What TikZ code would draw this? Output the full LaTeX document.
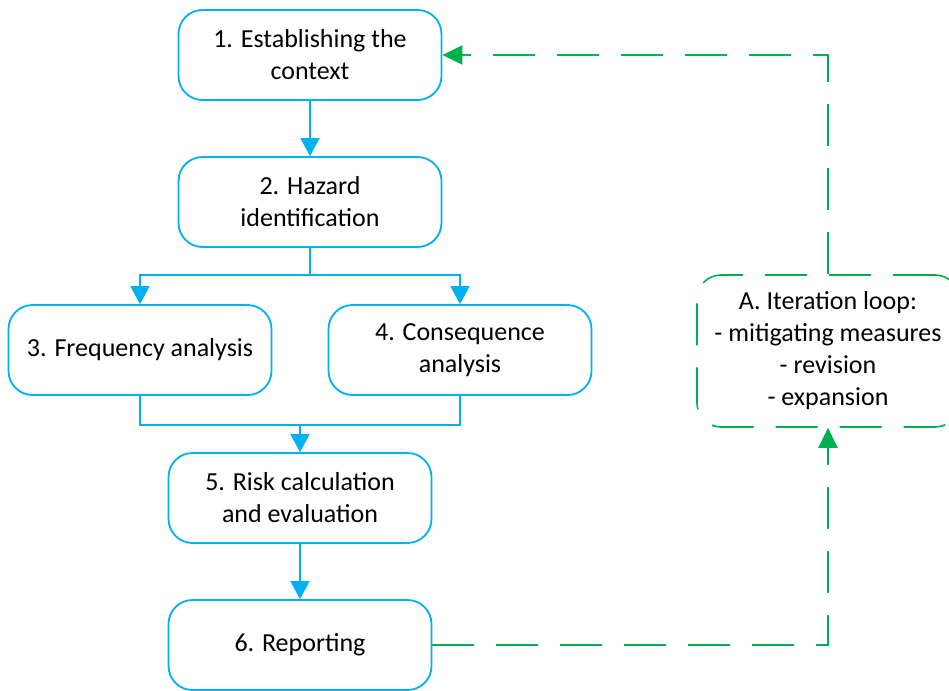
\documentclass[tikz,border=0pt]{standalone}
\usepackage{fontspec}
\setmainfont{Carlito}
\usetikzlibrary{arrows.meta}
\definecolor{cblue}{HTML}{00B0F0}
\definecolor{cgreen}{HTML}{00B050}
\begin{document}
\begin{tikzpicture}[x=1pt,y=-1pt,
  box/.style={draw=cblue,line width=1.8pt,rounded corners=24pt,minimum width=263pt,minimum height=90pt,
    align=center,inner sep=0pt,font=\fontsize{26}{32}\selectfont},
  flow/.style={draw=cblue,line width=2pt,-{Triangle[width=19pt,length=18pt]}},
  flowline/.style={draw=cblue,line width=2pt},
  loop/.style={draw=cgreen,line width=2.2pt,dash pattern=on 42pt off 22pt},
  gtip/.style={-{Triangle[width=19pt,length=20pt]}}]
\useasboundingbox (0,0) rectangle (949,690);
\node[box] (n1) at (310,55) {1. Establishing the\\context};
\node[box] (n2) at (310,202) {2. Hazard\\identification};
\node[box] (n3) at (140,350) {3. Frequency analysis};
\node[box] (n4) at (460,350) {4. Consequence\\analysis};
\node[box] (n5) at (300,498) {5. Risk calculation\\and evaluation};
\node[box] (n6) at (300,645) {6. Reporting};
\node[box,draw=cgreen,dash pattern=on 42pt off 22pt,line width=1.6pt,minimum width=262pt,minimum height=152pt] (nA) at (828,351)
  {A. Iteration loop:\\- mitigating measures\\- revision\\- expansion};
\coordinate (j2) at (310,275);
\coordinate (j3) at (140,425);
\coordinate (j4) at (460,425);
\coordinate (j5) at (300,425);
\draw[flow] (n1) -- (n2);
\draw[flowline] (n2.south) -- (j2);
\draw[flow] (j2) -| (n3.north);
\draw[flow] (j2) -| (n4.north);
\draw[flowline] (n3.south) -- (j3) -- (j4) -- (n4.south);
\draw[flow] (j5) -- (n5.north);
\draw[flow] (n5) -- (n6);
\draw[loop,gtip] (n6.east) -| (nA.south);
\draw[loop,gtip] (nA.north) |- (n1.east);
\end{tikzpicture}
\end{document}
